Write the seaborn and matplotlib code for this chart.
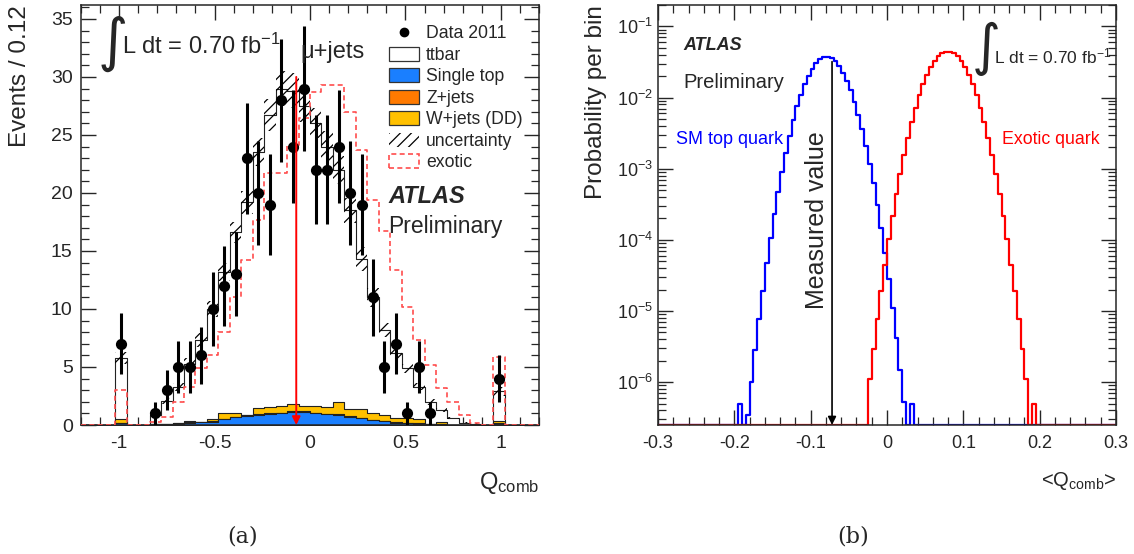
import numpy as np
import pandas as pd
import matplotlib
matplotlib.use("Agg")
import matplotlib.pyplot as plt
import seaborn as sns
from matplotlib import font_manager
from matplotlib.patches import Patch
from matplotlib.lines import Line2D
from matplotlib.ticker import MultipleLocator, LogLocator, NullFormatter, FuncFormatter, FixedLocator

# ---------------- panel (a): Q_comb distribution (40 bins, -1.2 .. 1.2) ----------------
q_lo, q_hi, n_bins = -1.2, 1.2, 40
data_2011 = [0, 0, 0, 7, 0, 0, 1, 3, 5, 5, 6, 10, 12, 13, 23, 20, 19, 28, 24, 29,
             22, 22, 24, 20, 19, 11, 5, 7, 1, 5, 1, 0, 0, 0, 0, 0, 4, 0, 0, 0]
mc_total = [0, 0, 0, 5.8, 0, 0, 0.9, 2.1, 3.3, 5.3, 7.3, 10.0, 13.2, 16.6, 19.2, 23.5, 26.7, 29.0, 28.8, 27.5,
            26.0, 24.0, 22.0, 18.5, 14.3, 11.0, 8.2, 6.2, 4.9, 3.3, 2.0, 1.3, 0.6, 0.2, 0.1, 0, 2.9, 0, 0, 0]
single_top = [0, 0, 0, 0.15, 0, 0, 0.05, 0.08, 0.12, 0.18, 0.22, 0.30, 0.50, 0.66, 0.78, 0.90, 0.95, 1.00, 1.10, 1.10,
              1.00, 0.92, 0.86, 0.72, 0.57, 0.43, 0.32, 0.20, 0.14, 0.12, 0.06, 0.05, 0.02, 0.02, 0.01, 0, 0.10, 0, 0, 0]
z_jets = [0, 0, 0, 0.03, 0, 0, 0.01, 0.01, 0.02, 0.08, 0.03, 0.04, 0.05, 0.05, 0.05, 0.06, 0.06, 0.07, 0.07, 0.07,
          0.06, 0.06, 0.06, 0.05, 0.05, 0.04, 0.04, 0.03, 0.03, 0.02, 0, 0.02, 0, 0, 0, 0, 0.03, 0, 0, 0]
w_jets = [0, 0, 0, 0.37, 0, 0, 0, 0.01, 0.01, 0.09, 0.05, 0.16, 0.45, 0.29, 0.05, 0.54, 0.57, 0.60, 0.61, 0.50,
          0.58, 0.60, 1.08, 0.58, 0.73, 0.59, 0.50, 0.34, 0.40, 0.35, 0, 0.18, 0, 0, 0, 0, 0.22, 0, 0, 0]
mc_unc = [0, 0, 0, 0.5, 0, 0, 0.15, 0.25, 0.35, 0.5, 0.6, 0.7, 0.8, 0.9, 1.0, 1.2, 1.4, 1.5, 1.5, 1.4,
          1.3, 1.3, 1.2, 1.1, 1.0, 0.8, 0.6, 0.5, 0.4, 0.3, 0.25, 0.2, 0.1, 0.05, 0.05, 0, 0.4, 0, 0, 0]
exotic = [0, 0, 0, 3.0, 0, 0, 0.3, 0.7, 2.0, 3.3, 4.9, 6.0, 8.0, 11.0, 14.2, 17.7, 21.7, 21.7, 24.1, 26.5,
          28.7, 29.3, 29.3, 27.0, 23.7, 19.4, 16.7, 13.4, 10.2, 7.3, 5.2, 3.2, 2.0, 0.9, 0.15, 0, 5.9, 0, 0, 0]
measured_q = -0.072
arrow_top_a = 30.0

# ---------------- panel (b): pseudo-experiment <Q_comb> distributions ----------------
b_lo, b_hi, b_width = -0.3, 0.3, 0.005
sm_first_edge = -0.195
sm_prob = [5e-7, 0, 3.4e-7, 1.0e-6, 2.8e-6, 7.6e-6, 1.9e-5, 4.7e-5, 1.06e-4, 2.3e-4, 4.7e-4, 9.1e-4,
           1.67e-3, 2.9e-3, 4.8e-3, 7.5e-3, 1.10e-2, 1.54e-2, 2.04e-2, 2.56e-2, 3.05e-2, 3.44e-2, 3.66e-2,
           3.71e-2, 3.55e-2, 3.22e-2, 2.77e-2, 2.25e-2, 1.73e-2, 1.27e-2, 8.8e-3, 5.7e-3, 3.6e-3, 2.1e-3,
           1.17e-3, 6.2e-4, 3.1e-4, 1.45e-4, 6.5e-5, 2.8e-5, 1.1e-5, 4.2e-6, 1.5e-6, 5.2e-7, 0, 5e-7]
ex_first_edge = -0.025
ex_prob = [1.1e-6, 2.9e-6, 7.7e-6, 1.9e-5, 4.5e-5, 1.02e-4, 2.17e-4, 4.4e-4, 8.5e-4, 1.57e-3, 2.74e-3,
           4.54e-3, 7.2e-3, 1.07e-2, 1.53e-2, 2.07e-2, 2.67e-2, 3.27e-2, 3.81e-2, 4.22e-2, 4.44e-2,
           4.44e-2, 4.22e-2, 3.81e-2, 3.27e-2, 2.67e-2, 2.07e-2, 1.53e-2, 1.07e-2, 7.2e-3, 4.54e-3,
           2.74e-3, 1.57e-3, 8.5e-4, 4.4e-4, 2.17e-4, 1.02e-4, 4.5e-5, 1.9e-5, 7.7e-6, 2.9e-6, 1.1e-6, 0, 5e-7]
prob_floor = 2.5e-7
prob_top = 0.2
arrow_top_b = 0.032

# ---------------- style ----------------
sns.set_theme(style="ticks")
names = {f.name for f in font_manager.fontManager.ttflist}
NARROW = "Liberation Sans Narrow" if "Liberation Sans Narrow" in names else "Liberation Sans"
plt.rcParams["font.family"] = ["Liberation Sans", "DejaVu Sans"]
plt.rcParams["mathtext.fontset"] = "custom"
plt.rcParams["mathtext.rm"] = "Liberation Sans"
plt.rcParams["mathtext.it"] = "Liberation Sans:italic"
plt.rcParams["mathtext.bf"] = "Liberation Sans:bold"
plt.rcParams["axes.unicode_minus"] = False
plt.rcParams["hatch.linewidth"] = 0.9
plt.rcParams["axes.linewidth"] = 1.1

C_ST, C_Z, C_W, C_EX = "#1a7fff", "#ff7a00", "#ffc000", "#ff4d4d"

W, H = 1134, 554
fig = plt.figure(figsize=(W / 100, H / 100), dpi=100)
def axrect(l, t, r, b):
    return [l / W, 1 - b / H, (r - l) / W, (b - t) / H]
def fx(px):
    return px / W
def fy(py):
    return 1 - py / H

axA = fig.add_axes(axrect(81, 5, 539, 425))
axB = fig.add_axes(axrect(658, 5, 1116, 425))

# ---------------- panel (a) ----------------
edges_a = np.linspace(q_lo, q_hi, n_bins + 1)
cent_a = 0.5 * (edges_a[:-1] + edges_a[1:])
st, zj, wj = np.array(single_top), np.array(z_jets), np.array(w_jets)
tot = np.array(mc_total)

def step_hist(ax, centers, edges, vals, **kw):
    df = pd.DataFrame({"q": centers, "w": np.asarray(vals, float)})
    sns.histplot(data=df, x="q", weights="w", bins=[float(e) for e in edges],
                 element="step", ax=ax, **kw)

for vals, col in [(tot, "white"), (st + zj + wj, C_W), (st + zj, C_Z), (st, C_ST)]:
    step_hist(axA, cent_a, edges_a, vals, fill=True, facecolor=col, edgecolor="#222222",
              linewidth=0.8, alpha=1)

unc = np.array(mc_unc)
m = unc > 0
axA.bar(cent_a[m], 2 * unc[m], bottom=tot[m] - unc[m], width=edges_a[1] - edges_a[0],
        fill=False, hatch="///", edgecolor="black", linewidth=0, zorder=3)

step_hist(axA, cent_a, edges_a, exotic, fill=False, color=C_EX, linestyle=(0, (3, 2)),
          linewidth=1.2, zorder=4)

d = np.array(data_2011, float)
md = d > 0
axA.errorbar(cent_a[md], d[md], yerr=np.sqrt(d[md]), fmt="none", ecolor="black",
             elinewidth=2.2, capsize=0, zorder=5)
sns.scatterplot(x=cent_a[md], y=d[md], color="black", s=65, linewidth=0, zorder=6, ax=axA)

axA.annotate("", xy=(measured_q, 0), xytext=(measured_q, arrow_top_a),
             arrowprops=dict(arrowstyle="-|>", color="red", lw=1.4, mutation_scale=12,
                             shrinkA=0, shrinkB=0), zorder=7)

axA.set_xlim(q_lo, q_hi)
axA.set_ylim(0, 36.2)
axA.xaxis.set_major_locator(MultipleLocator(0.5))
axA.xaxis.set_minor_locator(MultipleLocator(0.1))
axA.yaxis.set_major_locator(MultipleLocator(5))
axA.yaxis.set_minor_locator(MultipleLocator(1))
axA.xaxis.set_major_formatter(FuncFormatter(lambda v, p: f"{v:g}"))
axA.tick_params(which="both", direction="in", top=True, right=True, labelsize=14)
axA.tick_params(which="major", length=11, width=1)
axA.tick_params(which="minor", length=6, width=0.9)
axA.tick_params(axis="x", pad=7)
axA.tick_params(axis="y", pad=6)
axA.set_ylabel("Events / 0.12", fontsize=17.5, loc="top")
axA.yaxis.set_label_coords(-0.11, 1.0)
axA.set_xlabel(r"Q$_{\mathrm{comb}}$", fontsize=17, loc="right")
axA.xaxis.set_label_coords(1.0, -0.108)

handles = [
    Line2D([], [], marker="o", color="black", linestyle="none", markersize=6),
    Patch(facecolor="white", edgecolor="#333333", linewidth=0.9),
    Patch(facecolor=C_ST, edgecolor="#333333", linewidth=0.9),
    Patch(facecolor=C_Z, edgecolor="#333333", linewidth=0.9),
    Patch(facecolor=C_W, edgecolor="#333333", linewidth=0.9),
    Patch(facecolor="white", edgecolor="black", hatch="///", linewidth=0),
    Patch(facecolor="white", edgecolor=C_EX, linestyle=(0, (3, 2)), linewidth=1.2),
]
labels = ["Data 2011", "ttbar", "Single top", "Z+jets", "W+jets (DD)", "uncertainty", "exotic"]
axA.legend(handles, labels, loc="upper left", bbox_to_anchor=((389 - 81) / 458, (425 - 25) / 420),
           frameon=False, fontsize=12.7, handlelength=1.7, handleheight=0.85, labelspacing=0.25,
           handletextpad=0.4, borderpad=0, borderaxespad=0)

fig.text(fx(98), fy(43), "\u222b", fontsize=42, ha="left", va="center", family=["DejaVu Sans"])
fig.text(fx(122), fy(46), r"L dt = 0.70 fb$^{-1}$", fontsize=17, ha="left", va="center")
fig.text(fx(300), fy(52), "\u03bc+jets", fontsize=17, ha="left", va="center")
fig.text(fx(388), fy(197), "ATLAS", fontsize=17, fontweight="bold", fontstyle="italic", va="center")
fig.text(fx(388), fy(226), "Preliminary", fontsize=16.5, va="center")

# ---------------- panel (b) ----------------
b_edges = np.linspace(b_lo, b_hi, int(round((b_hi - b_lo) / b_width)) + 1)
b_cent = 0.5 * (b_edges[:-1] + b_edges[1:])
def place(first_edge, vals):
    full = np.zeros(len(b_cent))
    i0 = int(round((first_edge - b_lo) / b_width))
    full[i0:i0 + len(vals)] = vals
    return full

for first, vals, col in [(sm_first_edge, sm_prob, "#0000ff"), (ex_first_edge, ex_prob, "#ff0000")]:
    full = np.maximum(place(first, vals), prob_floor)
    step_hist(axB, b_cent, b_edges, full, fill=False, color=col, linewidth=1.6)

axB.set_yscale("log")
axB.set_xlim(b_lo, b_hi)
axB.set_ylim(prob_floor, prob_top)
axB.annotate("", xy=(measured_q, prob_floor), xytext=(measured_q, arrow_top_b),
             arrowprops=dict(arrowstyle="-|>", color="black", lw=1.2, mutation_scale=12,
                             shrinkA=0, shrinkB=0), zorder=7)
axB.xaxis.set_major_locator(MultipleLocator(0.1))
axB.xaxis.set_minor_locator(MultipleLocator(0.02))
axB.xaxis.set_major_formatter(FuncFormatter(lambda v, p: f"{v:g}"))
axB.yaxis.set_major_locator(FixedLocator(10.0 ** np.arange(-6, 0)))
axB.yaxis.set_minor_locator(LogLocator(base=10, subs=np.arange(2, 10), numticks=20))
axB.yaxis.set_minor_formatter(NullFormatter())
axB.tick_params(which="both", direction="in", top=True, right=True, labelsize=13)
axB.tick_params(which="major", length=11, width=1)
axB.tick_params(which="minor", length=6, width=0.9)
axB.tick_params(axis="x", pad=7)
for lab in axB.get_xticklabels() + axB.get_yticklabels():
    lab.set_family(NARROW)
axB.set_ylabel("Probability per bin", fontsize=17.5, loc="top")
axB.yaxis.set_label_coords(-0.112, 1.0)
axB.set_xlabel(r"<Q$_{\mathrm{comb}}$>", fontsize=14.5, loc="right")
axB.xaxis.set_label_coords(1.0, -0.108)

fig.text(fx(683), fy(45), "ATLAS", fontsize=13, fontweight="bold", fontstyle="italic", va="center")
fig.text(fx(683), fy(82), "Preliminary", fontsize=14.5, va="center", family=NARROW)
fig.text(fx(676), fy(140), "SM top quark", fontsize=13, va="center", color="#0000ff", family=NARROW)
fig.text(fx(1002), fy(140), "Exotic quark", fontsize=12.8, va="center", color="#ff0000", family=NARROW)
fig.text(fx(972), fy(49), "\u222b", fontsize=40, ha="left", va="center", family=["DejaVu Sans"])
fig.text(fx(994), fy(56), r"L dt = 0.70 fb$^{-1}$", fontsize=12.5, ha="left", va="center", family=NARROW)
fig.text(fx(817), fy(220), "Measured value", fontsize=18, rotation=90, ha="center", va="center",
         family=NARROW)

fig.text(fx(243), fy(537), "(a)", fontsize=16, ha="center", va="center", family=["DejaVu Serif"])
fig.text(fx(853), fy(537), "(b)", fontsize=16, ha="center", va="center", family=["DejaVu Serif"])

fig.savefig("out.png", dpi=100)
